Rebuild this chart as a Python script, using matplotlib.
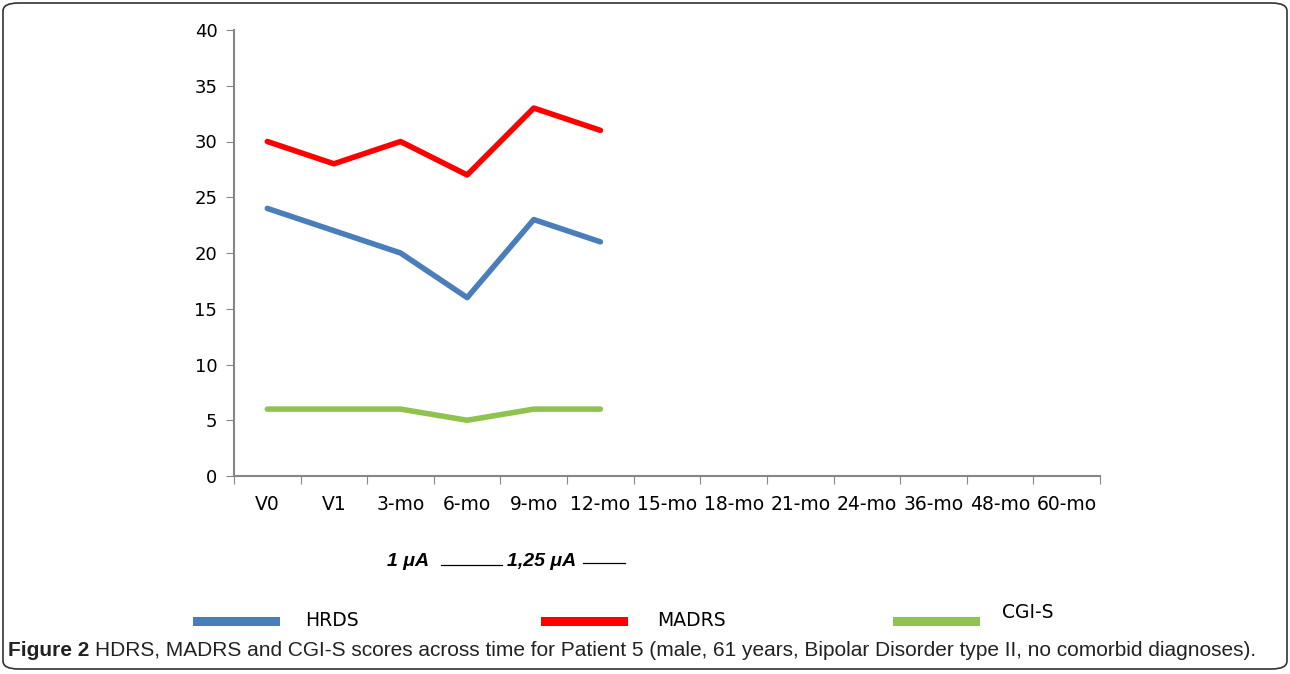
import matplotlib.pyplot as plt
from matplotlib.patches import FancyBboxPatch
from matplotlib.lines import Line2D

categories = ["V0", "V1", "3-mo", "6-mo", "9-mo", "12-mo", "15-mo", "18-mo",
              "21-mo", "24-mo", "36-mo", "48-mo", "60-mo"]
hrds = [24, 22, 20, 16, 23, 21]
madrs = [30, 28, 30, 27, 33, 31]
cgis = [6, 6, 6, 5, 6, 6]

W, H = 1290, 674
fig = plt.figure(figsize=(W / 100, H / 100), dpi=100)

# rounded frame round the whole figure
fig.patches.append(FancyBboxPatch((3 / W, 5 / H), 1284 / W, 666 / H,
                                  boxstyle="round,pad=0,rounding_size=0.012",
                                  transform=fig.transFigure, fill=False,
                                  ec="#333333", lw=1.2))

ax = fig.add_axes([234 / W, 1 - 476 / H, (1100 - 234) / W, (476 - 30) / H])
x = range(len(hrds))
ax.plot(x, hrds, color="#4a7ebb", lw=4, solid_capstyle="round")
ax.plot(x, madrs, color="#ff0000", lw=4, solid_capstyle="round")
ax.plot(x, cgis, color="#8fc34e", lw=4, solid_capstyle="round")

ax.set_xlim(-0.5, len(categories) - 0.5)
ax.set_ylim(0, 40)
ax.set_yticks(range(0, 41, 5))
ax.set_xticks([i - 0.5 for i in range(len(categories) + 1)])
ax.set_xticklabels([])
ax.set_xticks(range(len(categories)), minor=True)
ax.set_xticklabels(categories, minor=True)
ax.tick_params(axis="x", which="minor", length=0, pad=14, labelsize=13.5)
ax.tick_params(axis="x", which="major", length=6, direction="out", color="#868686")
ax.tick_params(axis="y", length=6, direction="out", color="#868686", labelsize=13, pad=6)
for s in ["top", "right"]:
    ax.spines[s].set_visible(False)
for s in ["left", "bottom"]:
    ax.spines[s].set_color("#868686")
    ax.spines[s].set_linewidth(1.5)

# stimulation annotation
fig.text(387 / W, 1 - 562 / H, "1 μA", fontsize=14, fontweight="bold",
         fontstyle="italic", va="center", family="Liberation Sans")
fig.add_artist(Line2D([441 / W, 502 / W], [1 - 565 / H, 1 - 565 / H], color="black", lw=0.9))
fig.text(507 / W, 1 - 562 / H, "1,25 μA", fontsize=14, fontweight="bold",
         fontstyle="italic", va="center", family="Liberation Sans")
fig.add_artist(Line2D([583 / W, 625 / W], [1 - 563 / H, 1 - 563 / H], color="black", lw=0.9))

# legend
legend_items = [("HRDS", "#4a7ebb", 197, 305, 620),
                ("MADRS", "#ff0000", 545, 657, 620),
                ("CGI-S", "#8fc34e", 897, 1002, 613)]
for label, col, lx, tx, ty in legend_items:
    fig.add_artist(Line2D([lx / W, (lx + 78) / W], [1 - 621 / H, 1 - 621 / H], color=col, lw=6.5))
    fig.text(tx / W, 1 - ty / H, label, fontsize=13.5, va="center")

# caption
cap1 = fig.text(8 / W, 1 - 651 / H, "Figure 2 ", fontsize=15, fontweight="bold", va="center",
                family="Liberation Sans", color="#222222")
fig.canvas.draw()
bb = cap1.get_window_extent()
fig.text(bb.x1 / W, 1 - 651 / H,
         "HDRS, MADRS and CGI-S scores across time for Patient 5 (male, 61 years, "
         "Bipolar Disorder type II, no comorbid diagnoses).",
         fontsize=15, va="center", family="Liberation Sans", color="#222222")

fig.savefig("out.png", dpi=100)
